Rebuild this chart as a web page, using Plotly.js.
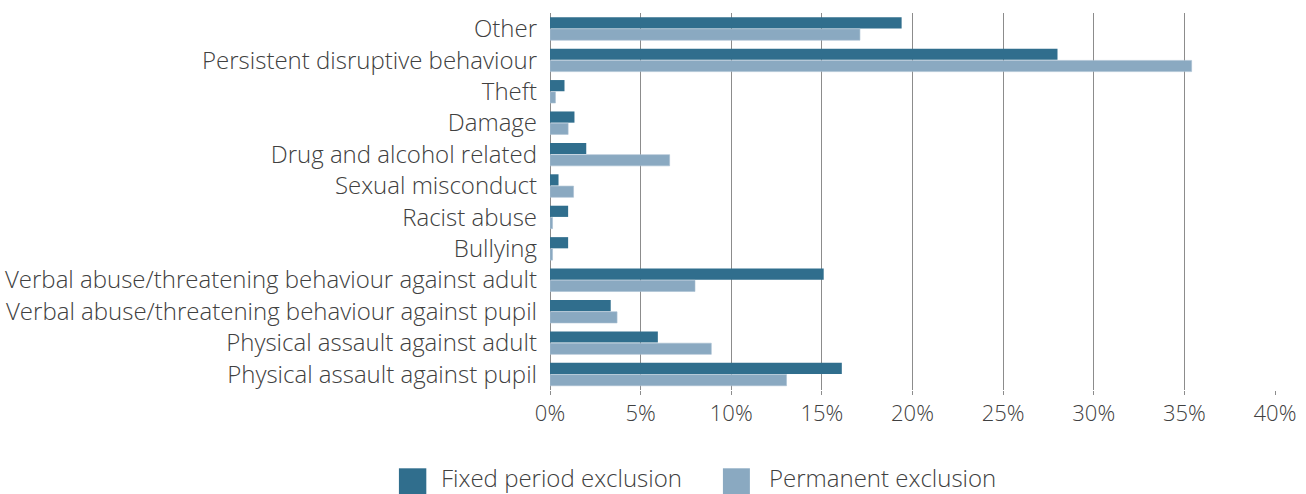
<!DOCTYPE html>
<html>
<head>
<meta charset="utf-8">
<script src="https://cdn.plot.ly/plotly-3.0.1.min.js"></script>
<style>
html, body { margin: 0; padding: 0; background: #ffffff; }
#chart { width: 1306px; height: 494px; }
</style>
</head>
<body>
<div id="chart"></div>
<script>
const categories = [
  "Other",
  "Persistent disruptive behaviour",
  "Theft",
  "Damage",
  "Drug and alcohol related",
  "Sexual misconduct",
  "Racist abuse",
  "Bullying",
  "Verbal abuse/threatening behaviour against adult",
  "Verbal abuse/threatening behaviour against pupil",
  "Physical assault against adult",
  "Physical assault against pupil"
];
const fixedPeriod = [19.4, 28.0, 0.8, 1.35, 2.0, 0.47, 1.0, 1.0, 15.1, 3.35, 5.95, 16.1];
const permanent   = [17.1, 35.4, 0.3, 1.0, 6.6, 1.3, 0.14, 0.14, 8.0, 3.7, 8.9, 13.05];
const seriesNames = ["Fixed period exclusion", "Permanent exclusion"];
const tickValues = [0, 5, 10, 15, 20, 25, 30, 35, 40];
const tickLabels = ["0%", "5%", "10%", "15%", "20%", "25%", "30%", "35%", "40%"];

const colFixed = "#306E8D";
const colPerm = "#8AA9C1";
const textCol = "#404040";
const fontFam = "'Open Sans', Lato, sans-serif";

const traces = [
  {
    type: "bar", orientation: "h", name: seriesNames[0],
    y: categories, x: fixedPeriod,
    marker: { color: colFixed },
    showlegend: false, hoverinfo: "x+y"
  },
  {
    type: "bar", orientation: "h", name: seriesNames[1],
    y: categories, x: permanent,
    marker: { color: colPerm, line: { color: "#A9C0D2", width: 0.6 } },
    showlegend: false, hoverinfo: "x+y"
  }
];

const layout = {
  width: 1306, height: 494,
  margin: { l: 549.5, r: 31, t: 13, b: 104, pad: 0 },
  paper_bgcolor: "#ffffff", plot_bgcolor: "#ffffff",
  font: { family: fontFam, color: textCol, size: 21, weight: 300 },
  barmode: "group",
  bargap: 0.25,
  bargroupgap: 0.05,
  showlegend: false,
  xaxis: {
    range: [0, 40],
    tickvals: tickValues,
    ticktext: tickLabels,
    showgrid: true, gridcolor: "#8c8c8c", gridwidth: 1,
    zeroline: true, zerolinecolor: "#8c8c8c", zerolinewidth: 1,
    showline: false,
    ticks: "outside", ticklen: 4, tickcolor: "#8c8c8c", tickwidth: 1,
    tickfont: { family: fontFam, size: 22, color: textCol, weight: 300 },
    layer: "below traces",
    fixedrange: true
  },
  yaxis: {
    type: "category",
    autorange: "reversed",
    showgrid: false, zeroline: false, showline: false,
    ticks: "",
    ticklabelstandoff: 12,
    tickfont: { family: fontFam, size: 24, color: textCol, weight: 300 },
    fixedrange: true
  },
  shapes: [
    { type: "rect", xref: "paper", yref: "paper",
      x0: -0.2084, x1: -0.1706, y0: -0.2077, y1: -0.2785,
      fillcolor: colFixed, line: { width: 0 } },
    { type: "rect", xref: "paper", yref: "paper",
      x0: 0.2385, x1: 0.2757, y0: -0.2077, y1: -0.2785,
      fillcolor: colPerm, line: { width: 0 } }
  ],
  annotations: [
    { xref: "paper", yref: "paper", x: -0.1525, y: -0.2334,
      xanchor: "left", yanchor: "middle", showarrow: false,
      text: seriesNames[0],
      font: { family: fontFam, size: 24, color: textCol, weight: 300 } },
    { xref: "paper", yref: "paper", x: 0.2995, y: -0.2334,
      xanchor: "left", yanchor: "middle", showarrow: false,
      text: seriesNames[1],
      font: { family: fontFam, size: 24, color: textCol, weight: 300 } }
  ]
};

Plotly.newPlot("chart", traces, layout, { displayModeBar: false, staticPlot: true });
</script>
</body>
</html>
